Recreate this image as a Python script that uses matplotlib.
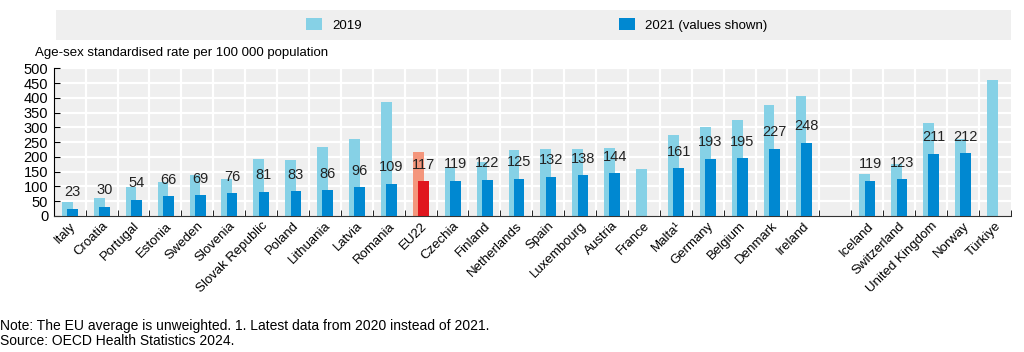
import numpy as np
import matplotlib
matplotlib.use('Agg')
import matplotlib.pyplot as plt
from matplotlib.patches import Rectangle, Patch

plt.rcParams['font.family'] = ['Liberation Sans', 'DejaVu Sans']

# Dados (None = sem valor)
countries = ['Italy', 'Croatia', 'Portugal', 'Estonia', 'Sweden', 'Slovenia',
             'Slovak Republic', 'Poland', 'Lithuania', 'Latvia', 'Romania',
             'EU22', 'Czechia', 'Finland', 'Netherlands', 'Spain', 'Luxembourg',
             'Austria', 'France', 'Malta¹', 'Germany', 'Belgium', 'Denmark',
             'Ireland', '', 'Iceland', 'Switzerland', 'United Kingdom',
             'Norway', 'Türkiye']
values_2019 = [48, 59, 98, 115, 138, 125, 192, 189, 232, 260, 387, 215, 163,
               181, 223, 225, 225, 231, 157, 273, 300, 324, 377, 405, None,
               140, 175, 316, 259, 459]
values_2021 = [23, 30, 54, 66, 69, 76, 81, 83, 86, 96, 109, 117, 119, 122, 125,
               132, 138, 144, None, 161, 193, 195, 227, 248, None, 119, 123,
               211, 212, None]

light_blue = '#86d1e6'
dark_blue = '#0088d1'
eu_light = '#f4967c'
eu_dark = '#e0161e'

fig = plt.figure(figsize=(10.24, 3.52), dpi=100)
ax = fig.add_axes([0.0525, 0.387, 0.9345, 0.419])
ax.set_facecolor('#efefef')

x = np.arange(len(countries))
width = 0.335
for i, name in enumerate(countries):
    c1, c2 = (eu_light, eu_dark) if name == 'EU22' else (light_blue, dark_blue)
    if values_2019[i] is not None:
        ax.bar(x[i] - 0.075, values_2019[i], width, color=c1, zorder=2)
    if values_2021[i] is not None:
        ax.bar(x[i] + 0.09, values_2021[i], width, color=c2, zorder=3)
        ax.text(x[i] + 0.09, values_2021[i] + 56, str(values_2021[i]),
                ha='center', va='center', fontsize=10.5, color='#222222',
                zorder=4)

ax.set_xlim(-0.5, len(countries) - 0.5)
ax.set_ylim(0, 500)
ax.set_yticks(np.arange(0, 501, 50))
ax.tick_params(axis='y', direction='in', length=4, labelsize=10.5, pad=4)

# Marcas entre as categorias
ax.set_xticks(np.arange(-0.5, len(countries), 1), minor=True)
ax.set_xticks(x)
ax.set_xticklabels(countries, rotation=45, ha='right', rotation_mode='anchor',
                   fontsize=9.5)
ax.tick_params(axis='x', which='major', length=0, pad=3)
ax.tick_params(axis='x', which='minor', direction='in', length=4)

# Grade branca
for yv in np.arange(50, 501, 50):
    ax.axhline(yv, color='white', linewidth=1.6, zorder=1)
for xv in np.arange(0.5, len(countries) - 0.5, 1):
    ax.axvline(xv, color='white', linewidth=1.6, zorder=1)

for s in ['top', 'right']:
    ax.spines[s].set_visible(False)
ax.spines['left'].set_color('black')
ax.spines['bottom'].set_color('#333333')

fig.text(0.034, 0.85, 'Age-sex standardised rate per 100 000 population',
         fontsize=9.5, va='center', ha='left')

# Caixa da legenda
fig.patches.append(Rectangle((0.055, 0.886), 0.932, 0.086,
                             transform=fig.transFigure, facecolor='#efefef',
                             edgecolor='none', zorder=0))
handles = [Patch(facecolor=light_blue), Patch(facecolor=dark_blue)]
fig.legend(handles, ['2019', '2021 (values shown)'], loc='center left',
           bbox_to_anchor=(0.287, 0.929), ncol=2, frameon=False, fontsize=9.5,
           handlelength=1.2, handleheight=1.0, handletextpad=0.8,
           columnspacing=19.5)

fig.text(0.0, 0.075, 'Note: The EU average is unweighted. 1. Latest data from '
         '2020 instead of 2021.', fontsize=10, va='center')
fig.text(0.0, 0.03, 'Source: OECD Health Statistics 2024.', fontsize=10,
         va='center')

fig.savefig('out.png', dpi=100)
